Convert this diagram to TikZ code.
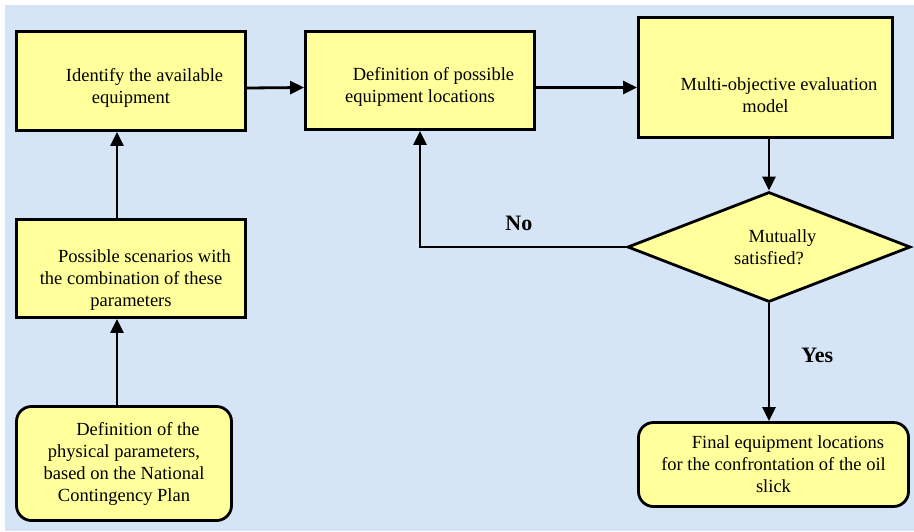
\documentclass[tikz,border=0pt]{standalone}
\usepackage{fontspec}
\setmainfont{Liberation Serif}
\usetikzlibrary{arrows.meta, shapes.geometric}

\definecolor{sea}{RGB}{214,229,245}
\definecolor{pad}{RGB}{255,255,155}
\newcommand{\dropby}[1]{\rule{0pt}{#1}}

\tikzset{
  box/.style={draw, line width=2.8pt, fill=pad, align=center, inner sep=0pt,
    font=\fontsize{18.5}{22}\selectfont},
  roundbox/.style={box, rounded corners=15pt},
  decision/.style={box, diamond, aspect=2.5, line join=miter},
  arr/.style={line width=2.8pt, -{Triangle[length=14pt, width=13pt]}},
  lbl/.style={font=\fontsize{22}{24}\selectfont\bfseries, inner sep=0pt}
}

\begin{document}
\begin{tikzpicture}[x=1pt, y=-1pt]
\useasboundingbox (0,0) rectangle (914,531);
\fill[sea] (5,5) rectangle (914,531);

\node[box, minimum width=229pt, minimum height=99pt] (ident) at (131,81)
  {\dropby{26.7pt}\hspace*{27pt}Identify the available\\equipment};
\node[box, minimum width=229pt, minimum height=98pt] (loc) at (420,80.5)
  {\dropby{26.7pt}\hspace*{27pt}Definition of possible\\equipment locations};
\node[box, minimum width=254pt, minimum height=120pt] (model) at (765.5,77.5)
  {\dropby{48.7pt}\hspace*{27pt}Multi-objective evaluation\\model};
\node[decision, minimum width=283pt, minimum height=110pt] (check) at (769,247)
  {\hspace*{27pt}Mutually\\satisfied?};
\node[box, minimum width=229pt, minimum height=98pt] (scen) at (131,268.5)
  {\dropby{36.7pt}\hspace*{27pt}Possible scenarios with\\the combination of these\\parameters};
\node[roundbox, minimum width=215pt, minimum height=114pt] (param) at (124,463.5)
  {\hspace*{28pt}Definition of the\\physical parameters,\\based on the National\\Contingency Plan};
\node[roundbox, minimum width=270pt, minimum height=84pt] (final) at (773.5,464.5)
  {\hspace*{29pt}Final equipment locations\\for the confrontation of the oil\\slick};

\draw[arr] ([yshift=-7pt]ident.east) -- ([yshift=-7pt]loc.west);
\draw[arr] ([yshift=-7pt]loc.east) -- ([yshift=-7pt]loc.east -| model.west);
\draw[arr] (model.south -| check.north) -- (check.north);
\draw[arr] (check.west) -| node[lbl, pos=0.26, above=15pt] (no) {No} (loc.south);
\draw[arr] (check.south) -- node[lbl, pos=0.44, right=31pt] (yes) {Yes} (check.south |- final.north);
\draw[arr] ([xshift=-14pt]scen.north) -- ([xshift=-14pt]ident.south);
\draw[arr] ([xshift=-7pt]param.north) -- ([xshift=-14pt]scen.south);
\end{tikzpicture}
\end{document}
